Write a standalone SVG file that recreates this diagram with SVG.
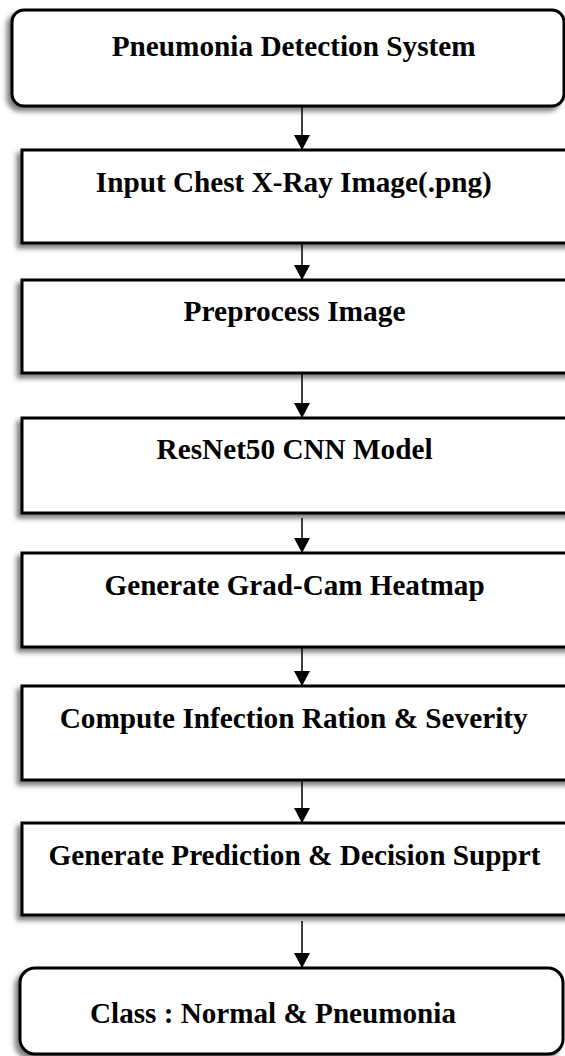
<svg xmlns="http://www.w3.org/2000/svg" width="565" height="1056" viewBox="0 0 565 1056">
<style>
.box{fill:#ffffff;stroke:#000000;stroke-width:3;filter:url(#sh)}
.lbl{font-family:"Liberation Serif","Times New Roman",serif;font-weight:bold;font-size:29px;fill:#000000;text-anchor:middle}
.con{stroke:#000000;stroke-width:1.5;fill:none;marker-end:url(#ah)}
</style>
<defs>
<filter id="sh" x="-10%" y="-20%" width="120%" height="140%">
<feDropShadow dx="-4" dy="4" stdDeviation="2.5" flood-color="#000000" flood-opacity="0.5"/>
</filter>
<marker id="ah" markerUnits="userSpaceOnUse" markerWidth="16" markerHeight="16" refX="15" refY="8" orient="auto">
<path d="M0,0 L15,8 L0,16 Z" fill="#000000"/>
</marker>
</defs>
<g id="connectors">
<line class="con" x1="302" y1="107" x2="302" y2="150"/>
<line class="con" x1="302" y1="238" x2="302" y2="280"/>
<line class="con" x1="302" y1="369" x2="302" y2="418"/>
<line class="con" x1="302" y1="518" x2="302" y2="553"/>
<line class="con" x1="302" y1="640" x2="302" y2="686"/>
<line class="con" x1="302" y1="777" x2="302" y2="823"/>
<line class="con" x1="302" y1="921" x2="302" y2="968"/>
</g>
<g id="n1">
<rect class="box" x="12" y="10" width="552" height="96" rx="12"/>
<text class="lbl" x="293.7" y="56" textLength="364" lengthAdjust="spacingAndGlyphs">Pneumonia Detection System</text>
</g>
<g id="n2">
<rect class="box" x="22" y="150" width="560" height="93"/>
<text class="lbl" x="293.8" y="192" textLength="396" lengthAdjust="spacingAndGlyphs">Input Chest X-Ray Image(.png)</text>
</g>
<g id="n3">
<rect class="box" x="22" y="280" width="560" height="93"/>
<text class="lbl" x="294.6" y="321" textLength="222" lengthAdjust="spacingAndGlyphs">Preprocess Image</text>
</g>
<g id="n4">
<rect class="box" x="22" y="418" width="560" height="95"/>
<text class="lbl" x="294.6" y="459" textLength="276" lengthAdjust="spacingAndGlyphs">ResNet50 CNN Model</text>
</g>
<g id="n5">
<rect class="box" x="22" y="553" width="560" height="94"/>
<text class="lbl" x="294.6" y="595" textLength="380" lengthAdjust="spacingAndGlyphs">Generate Grad-Cam Heatmap</text>
</g>
<g id="n6">
<rect class="box" x="22" y="686" width="560" height="94"/>
<text class="lbl" x="293.7" y="728" textLength="468" lengthAdjust="spacingAndGlyphs">Compute Infection Ration &amp; Severity</text>
</g>
<g id="n7">
<rect class="box" x="22" y="823" width="560" height="92"/>
<text class="lbl" x="294.6" y="865" textLength="492" lengthAdjust="spacingAndGlyphs">Generate Prediction &amp; Decision Supprt</text>
</g>
<g id="n8">
<rect class="box" x="20" y="968" width="543" height="86" rx="15"/>
<text class="lbl" x="273" y="1023" textLength="366" lengthAdjust="spacingAndGlyphs">Class : Normal &amp; Pneumonia</text>
</g>
</svg>
